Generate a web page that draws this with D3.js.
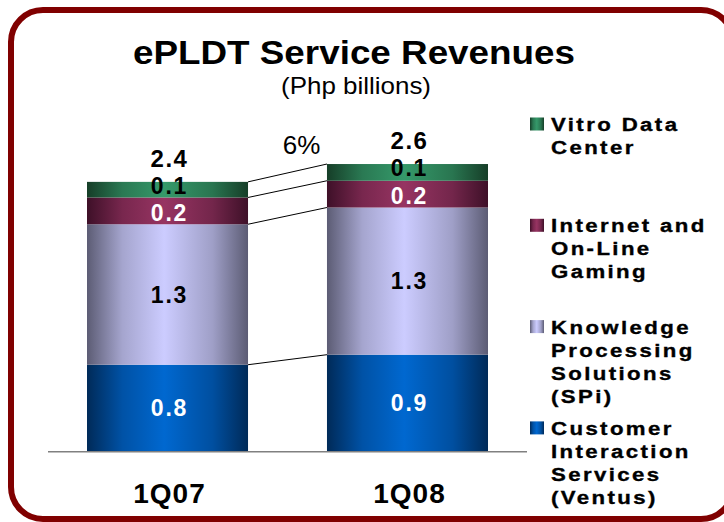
<!DOCTYPE html>
<html>
<head>
<meta charset="utf-8">
<script src="https://cdn.jsdelivr.net/npm/d3@7"></script>
<style>
  html, body { margin: 0; padding: 0; background: #fff; }
  svg { display: block; font-family: "Liberation Sans", Arial, sans-serif; }
</style>
</head>
<body>
<div id="viz"></div>
<script>
// data (Php billions)
var periods = ["1Q07", "1Q08"];
var ventus = [0.78, 0.87];     // Customer Interaction Services
var spi = [1.26, 1.32];        // Knowledge Processing Solutions
var internet = [0.24, 0.24];   // Internet and On-Line Gaming
var vitro = [0.14, 0.15];      // Vitro Data Center
var growth = "6%";

var seriesKeys = ["ventus", "spi", "internet", "vitro"];
var legendLines = {
  vitro: ["Vitro Data", "Center"],
  internet: ["Internet and", "On-Line", "Gaming"],
  spi: ["Knowledge", "Processing", "Solutions", "(SPi)"],
  ventus: ["Customer", "Interaction", "Services", "(Ventus)"]
};
var shades = {
  ventus: {dark: "#002a58", light: "#0068d0", label: "#fff", nudge: 0},
  spi: {dark: "#5c5c74", light: "#ccccff", label: "#000", nudge: 0},
  internet: {dark: "#3e1028", light: "#973462", label: "#fff", nudge: 2},
  vitro: {dark: "#163e28", light: "#35996a", label: "#000", nudge: -4}
};

var width = 724, height = 522;
var baseY = 451.7;

var rows = periods.map(function(p, i) {
  return {period: p, ventus: ventus[i], spi: spi[i], internet: internet[i], vitro: vitro[i]};
});
var stacked = d3.stack().keys(seriesKeys)(rows);
var totals = rows.map(function(r) { return r.ventus + r.spi + r.internet + r.vitro; });

var x = d3.scaleBand().domain(periods).range([87, 488]).paddingInner(0.329).paddingOuter(0);
var y = d3.scaleLinear().domain([0, 3]).range([baseY, baseY - 334.5]);
var fmt = d3.format(".1f");

var svg = d3.select('#viz').append('svg')
  .attr('width', width)
  .attr('height', height);

var defs = svg.append('defs');
seriesKeys.forEach(function(k) {
  var g = defs.append('linearGradient').attr('id', 'grad-' + k)
    .attr('x1', '0%').attr('x2', '100%').attr('y1', '0%').attr('y2', '0%');
  g.append('stop').attr('offset', '0%').attr('stop-color', shades[k].dark);
  g.append('stop').attr('offset', '22%').attr('stop-color', d3.interpolateRgb(shades[k].dark, shades[k].light)(0.65));
  g.append('stop').attr('offset', '48%').attr('stop-color', shades[k].light);
  g.append('stop').attr('offset', '78%').attr('stop-color', d3.interpolateRgb(shades[k].dark, shades[k].light)(0.6));
  g.append('stop').attr('offset', '100%').attr('stop-color', shades[k].dark);
});

// frame
svg.append('rect')
  .attr('x', 11).attr('y', 10)
  .attr('width', 722).attr('height', 509)
  .attr('rx', 32).attr('ry', 32)
  .attr('fill', 'none')
  .attr('stroke', '#800000')
  .attr('stroke-width', 6);

// titles
svg.append('text')
  .attr('x', 354).attr('y', 64)
  .attr('text-anchor', 'middle')
  .attr('font-size', 33).attr('font-weight', 'bold')
  .attr('textLength', 442).attr('lengthAdjust', 'spacingAndGlyphs')
  .text('ePLDT Service Revenues');

svg.append('text')
  .attr('x', 356).attr('y', 94)
  .attr('text-anchor', 'middle')
  .attr('font-size', 24)
  .attr('textLength', 150).attr('lengthAdjust', 'spacingAndGlyphs')
  .text('(Php billions)');

// connector lines between the two stacks
var edges = stacked.map(function(s) { return [s[0][1], s[1][1]]; });
svg.append('g').selectAll('line').data(edges)
  .enter().append('line')
  .attr('x1', x(periods[0]) + x.bandwidth())
  .attr('x2', x(periods[1]))
  .attr('y1', function(d) { return y(d[0]); })
  .attr('y2', function(d) { return y(d[1]); })
  .attr('stroke', '#000')
  .attr('stroke-width', 1);

// bars
var layers = svg.append('g').selectAll('g').data(stacked)
  .enter().append('g')
  .attr('fill', function(d) { return 'url(#grad-' + d.key + ')'; });

layers.selectAll('rect').data(function(d) { return d; })
  .enter().append('rect')
  .attr('x', function(d) { return x(d.data.period); })
  .attr('y', function(d) { return y(d[1]); })
  .attr('width', x.bandwidth())
  .attr('height', function(d) { return y(d[0]) - y(d[1]); });

// segment labels
stacked.forEach(function(s) {
  svg.append('g').selectAll('text').data(s)
    .enter().append('text')
    .attr('x', function(d) { return x(d.data.period) + x.bandwidth() / 2 + 2; })
    .attr('y', function(d) { return (y(d[0]) + y(d[1])) / 2 + shades[s.key].nudge; })
    .attr('dy', '0.35em')
    .attr('text-anchor', 'middle')
    .attr('font-size', 23).attr('font-weight', 'bold')
    .attr('letter-spacing', 1.8)
    .attr('fill', shades[s.key].label)
    .text(function(d) { return fmt(d[1] - d[0]); });
});

// totals
svg.append('g').selectAll('text').data(totals)
  .enter().append('text')
  .attr('x', function(d, i) { return x(periods[i]) + x.bandwidth() / 2 + 2; })
  .attr('y', function(d) { return y(d) - 15; })
  .attr('text-anchor', 'middle')
  .attr('font-size', 24).attr('font-weight', 'bold')
  .attr('letter-spacing', 1.5)
  .text(function(d) { return fmt(d); });

// growth label
svg.append('text')
  .attr('x', (x(periods[0]) + x.bandwidth() + x(periods[1])) / 2 + 14)
  .attr('y', 154)
  .attr('text-anchor', 'middle')
  .attr('font-size', 26)
  .text(growth);

// baseline and period labels
svg.append('line')
  .attr('x1', x(periods[0]) - 39).attr('x2', x(periods[1]) + x.bandwidth() + 39)
  .attr('y1', baseY).attr('y2', baseY)
  .attr('stroke', '#808080').attr('stroke-width', 1.5);

svg.append('g').selectAll('text').data(periods)
  .enter().append('text')
  .attr('x', function(d) { return x(d) + x.bandwidth() / 2 + 2; })
  .attr('y', 503)
  .attr('text-anchor', 'middle')
  .attr('font-size', 28).attr('font-weight', 'bold')
  .attr('letter-spacing', 1)
  .text(function(d) { return d; });

// legend (top to bottom: vitro, internet, spi, ventus)
var legendOrder = seriesKeys.slice().reverse();
var legend = svg.append('g').selectAll('g').data(legendOrder)
  .enter().append('g')
  .attr('transform', function(d, i) { return 'translate(530,' + (131 + i * 101.3) + ')'; });

legend.append('rect')
  .attr('x', 0).attr('y', -13.5)
  .attr('width', 14).attr('height', 13)
  .attr('fill', function(d) { return 'url(#grad-' + d + ')'; });

legend.each(function(k) {
  var t = d3.select(this).append('text')
    .attr('transform', 'translate(21,0) scale(1.2,1)')
    .attr('font-size', 18.5).attr('font-weight', 'bold')
    .attr('letter-spacing', 2)
    .attr('stroke', '#000').attr('stroke-width', 0.35);
  t.selectAll('tspan').data(legendLines[k])
    .enter().append('tspan')
    .attr('x', 0)
    .attr('y', function(d, i) { return i * 23; })
    .text(function(d) { return d; });
});
</script>
</body>
</html>
